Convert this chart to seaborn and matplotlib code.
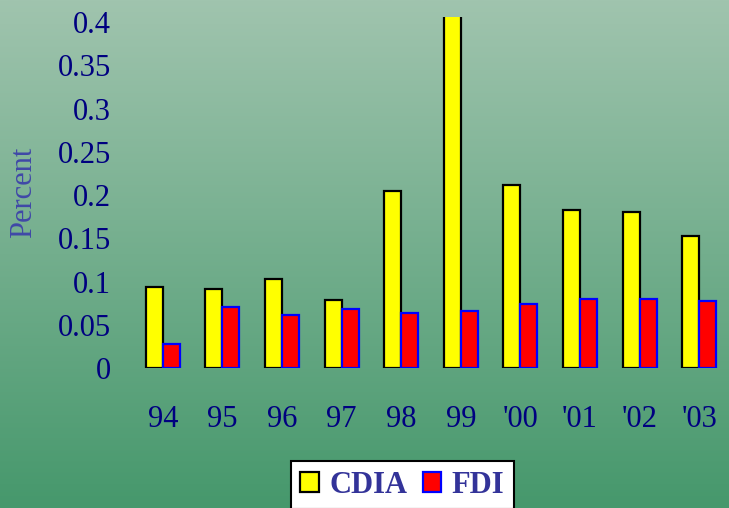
import matplotlib
matplotlib.use("Agg")
import matplotlib.pyplot as plt
from matplotlib.patches import Patch
import numpy as np
import pandas as pd
import seaborn as sns

years = ["94", "95", "96", "97", "98", "99", "'00", "'01", "'02", "'03"]
cdia = [0.094, 0.091, 0.103, 0.079, 0.205, 0.43, 0.212, 0.183, 0.180, 0.153]
fdi = [0.028, 0.070, 0.061, 0.068, 0.064, 0.066, 0.074, 0.080, 0.080, 0.078]
series = ["CDIA", "FDI"]
yticks = [0, 0.05, 0.1, 0.15, 0.2, 0.25, 0.3, 0.35, 0.4]
ytick_labels = ["0", "0.05", "0.1", "0.15", "0.2", "0.25", "0.3", "0.35", "0.4"]

df = pd.DataFrame({
    "year": years * 2,
    "value": cdia + fdi,
    "series": ["CDIA"] * len(years) + ["FDI"] * len(years),
})

sns.set_theme(style="white")
plt.rcParams["font.family"] = ["Liberation Serif", "DejaVu Serif"]

navy = "#000080"
fig = plt.figure(figsize=(7.29, 5.08), dpi=100)

# green gradient background
bg = fig.add_axes([0, 0, 1, 1], zorder=-10)
top = np.array([160, 196, 174]) / 255
bottom = np.array([70, 152, 108]) / 255
t = np.linspace(0, 1, 256)[:, None]
grad = top[None, :] * (1 - t) + bottom[None, :] * t
bg.imshow(grad[:, None, :], aspect="auto", extent=[0, 1, 0, 1])
bg.axis("off")

ax = fig.add_axes([0.1824, 0.2756, 0.8176, 0.691])
ax.patch.set_alpha(0)
sns.barplot(data=df, x="year", y="value", hue="series", hue_order=series,
            palette=["#ffff00", "#ff0000"], width=0.57, saturation=1,
            linewidth=1.6, ax=ax, legend=False)

edge_colors = ["black", "#0000ff"]
for cont, ec in zip(ax.containers, edge_colors):
    for bar in cont:
        bar.set_edgecolor(ec)

ax.set_ylim(0, 0.406)
ax.set_xlim(-0.5, 9.5)
ax.set_yticks(yticks)
ax.set_yticklabels(ytick_labels)
ax.tick_params(axis="y", length=0, pad=16, labelsize=22, labelcolor=navy)
ax.tick_params(axis="x", length=0, pad=27, labelsize=22, labelcolor=navy)
ax.set_xlabel("")
ax.set_ylabel("Percent", fontsize=22, color="#4048a8", labelpad=14)
for s in ax.spines.values():
    s.set_visible(False)
ax.grid(False)

handles = [Patch(facecolor="#ffff00", edgecolor="black", linewidth=1.6),
           Patch(facecolor="#ff0000", edgecolor="#0000ff", linewidth=1.6)]
leg = fig.legend(handles, series, loc="center", bbox_to_anchor=(0.552, 0.045),
                 ncol=2, frameon=True, fancybox=False, edgecolor="black",
                 framealpha=1, handlelength=0.6, handleheight=0.6,
                 handletextpad=0.35, columnspacing=0.5, borderpad=0.3,
                 borderaxespad=0, prop={"size": 22, "weight": "bold"})
leg.get_frame().set_linewidth(1.5)
for txt in leg.get_texts():
    txt.set_color("#333399")

fig.savefig("out.png", dpi=100)
